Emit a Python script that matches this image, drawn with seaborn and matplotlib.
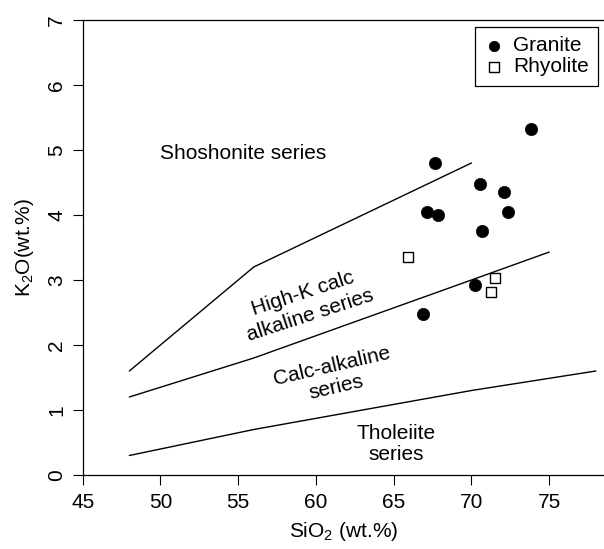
import matplotlib
matplotlib.use("Agg")
import matplotlib.pyplot as plt
import seaborn as sns
import pandas as pd

# Sample compositions (wt.%)
granite_sio2 = [73.85, 67.66, 70.57, 72.09, 67.14, 67.83, 72.33, 70.70, 70.21, 66.90]
granite_k2o = [5.32, 4.80, 4.47, 4.36, 4.04, 4.00, 4.05, 3.75, 2.93, 2.47]
rhyolite_sio2 = [65.90, 71.51, 71.26]
rhyolite_k2o = [3.35, 3.03, 2.81]

# Series boundaries (Peccerillo & Taylor style)
shoshonite_x = [48, 56, 70]
shoshonite_y = [1.6, 3.2, 4.8]
highk_x = [48, 52, 56, 63, 70, 75]
highk_y = [1.2, 1.5, 1.8, 2.4, 3.0, 3.43]
tholeiite_x = [48, 52, 56, 63, 70, 78]
tholeiite_y = [0.3, 0.5, 0.7, 1.0, 1.3, 1.6]

x_ticks = [45, 50, 55, 60, 65, 70, 75]
y_ticks = [0, 1, 2, 3, 4, 5, 6, 7]

sns.set_theme(style="ticks")
plt.rcParams["font.family"] = ["Liberation Sans", "DejaVu Sans"]
plt.rcParams["mathtext.fontset"] = "custom"
plt.rcParams["mathtext.rm"] = "Liberation Sans"
plt.rcParams["mathtext.default"] = "regular"
plt.rcParams["text.color"] = "black"
plt.rcParams["axes.labelcolor"] = "black"
plt.rcParams["xtick.color"] = "black"
plt.rcParams["ytick.color"] = "black"

W, H = 604, 549
fig = plt.figure(figsize=(W / 100, H / 100), dpi=100)
left, right, bottom, top = 82.7, 604, 475, 20
ax = fig.add_axes([left / W, (H - bottom) / H, (right - left) / W, (bottom - top) / H])

boundaries = pd.concat([
    pd.DataFrame({"SiO2": shoshonite_x, "K2O": shoshonite_y, "line": "sho"}),
    pd.DataFrame({"SiO2": highk_x, "K2O": highk_y, "line": "hk"}),
    pd.DataFrame({"SiO2": tholeiite_x, "K2O": tholeiite_y, "line": "th"}),
])
for name, grp in boundaries.groupby("line", sort=False):
    sns.lineplot(data=grp, x="SiO2", y="K2O", ax=ax, color="black", lw=1.0,
                 estimator=None, sort=False, legend=False)

granite = pd.DataFrame({"SiO2": granite_sio2, "K2O": granite_k2o})
rhyolite = pd.DataFrame({"SiO2": rhyolite_sio2, "K2O": rhyolite_k2o})
sns.scatterplot(data=granite, x="SiO2", y="K2O", ax=ax, marker="o", s=78,
                color="black", edgecolor="black", linewidth=0.5, label="Granite", zorder=3)
sns.scatterplot(data=rhyolite, x="SiO2", y="K2O", ax=ax, marker="s", s=60,
                facecolor="white", edgecolor="black", linewidth=1.0, label="Rhyolite", zorder=3)

ax.set_xlim(45, 45 + (right - left) / 15.55)
ax.set_ylim(0, 7)
ax.set_xticks(x_ticks)
ax.set_yticks(y_ticks)
ax.tick_params(axis="both", direction="out", length=7, width=0.8, color="black",
               labelsize=15, labelcolor="black")
ax.tick_params(axis="x", pad=6)
ax.tick_params(axis="y", pad=5)
for lab in ax.get_yticklabels():
    lab.set_rotation(90)
    lab.set_va("center")
for side in ["left", "bottom", "top"]:
    ax.spines[side].set_color("black")
    ax.spines[side].set_linewidth(0.9)
ax.spines["right"].set_visible(False)

ax.set_xlabel("SiO$_2$ (wt.%)", fontsize=15, labelpad=6, color="black")
ax.set_ylabel("K$_2$O(wt.%)", fontsize=15, labelpad=8, color="black")

txt = dict(fontsize=15, ha="center", va="center", multialignment="center",
           rotation_mode="anchor", color="black")
ax.text(55.3, 4.95, "Shoshonite series", **txt)
ax.text(59.4, 2.62, "High-K calc\nalkaline series", rotation=18, linespacing=1.25, **txt)
ax.text(61.16, 1.51, "Calc-alkaline\nseries", rotation=13, linespacing=1.15, **txt)
ax.text(65.15, 0.48, "Tholeiite\nseries", rotation=0, linespacing=1.1, **txt)

leg = ax.legend(loc="upper right", bbox_to_anchor=(598 / W, (H - 26.7) / H),
                bbox_transform=fig.transFigure, fontsize=15, frameon=True,
                fancybox=False, framealpha=1, edgecolor="black", borderpad=0.45,
                labelspacing=0.1, handlelength=0.9, handletextpad=0.45,
                borderaxespad=0, markerscale=0.85)
leg.get_frame().set_linewidth(0.9)
for t in leg.get_texts():
    t.set_color("black")

fig.savefig("out.png", dpi=100)
